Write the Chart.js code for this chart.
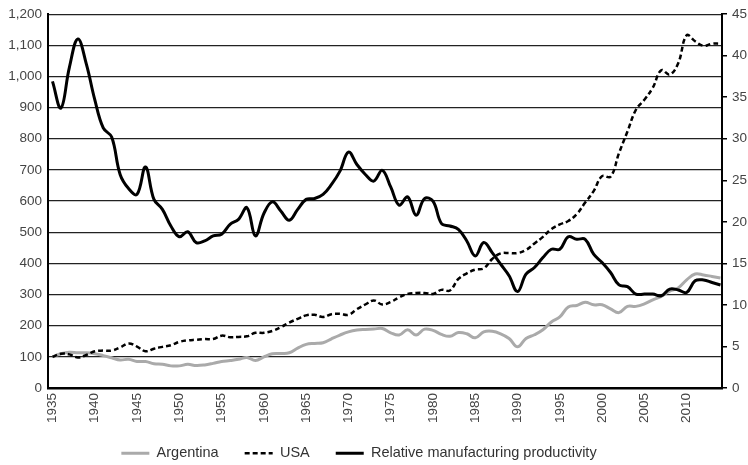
<!doctype html>
<html lang="en">
    <head>
        <meta charset="UTF-8" />
        <title>Argentina and USA manufacturing productivity</title>
        <script src="https://cdn.jsdelivr.net/npm/chart.js"></script>
        <style>
            html,
            body {
                margin: 0;
                padding: 0;
                background: #fff;
            }

            #wrap {
                width: 748px;
                height: 465px;
            }
        </style>
    </head>
    <body>
        <div id="wrap"><canvas id="chart"></canvas></div>

        <script>
            const years = [
                1935, 1936, 1937, 1938, 1939, 1940, 1941, 1942, 1943, 1944,
                1945, 1946, 1947, 1948, 1949, 1950, 1951, 1952, 1953, 1954,
                1955, 1956, 1957, 1958, 1959, 1960, 1961, 1962, 1963, 1964,
                1965, 1966, 1967, 1968, 1969, 1970, 1971, 1972, 1973, 1974,
                1975, 1976, 1977, 1978, 1979, 1980, 1981, 1982, 1983, 1984,
                1985, 1986, 1987, 1988, 1989, 1990, 1991, 1992, 1993, 1994,
                1995, 1996, 1997, 1998, 1999, 2000, 2001, 2002, 2003, 2004,
                2005, 2006, 2007, 2008, 2009, 2010, 2011, 2012, 2013, 2014,
            ];

            // index, 1935 = 100 (left axis)
            const argentina = [
                100, 110, 115, 113, 113, 110, 104, 97, 90, 92,
                85, 85, 78, 76, 71, 71, 76, 72, 74, 79,
                85, 88, 92, 98, 88, 100, 110, 111, 113, 128,
                140, 143, 145, 158, 170, 180, 186, 188, 189, 191,
                177, 170, 187, 170, 189, 185, 172, 166, 178, 174,
                161, 180, 182, 174, 159, 132, 159, 171, 187, 212,
                228, 260, 265, 275, 267, 267, 254, 242, 262, 262,
                270, 283, 294, 311, 321, 347, 366, 363, 358, 353,
            ];

            const usa = [
                100, 110, 108, 98, 106, 118, 120, 120, 130, 143,
                133, 118, 126, 132, 137, 148, 153, 155, 157, 157,
                168, 163, 164, 166, 177, 177, 183, 195, 210, 222,
                233, 235, 228, 237, 238, 235, 253, 268, 281, 268,
                276, 291, 302, 305, 305, 302, 315, 313, 350, 368,
                380, 384, 414, 432, 433, 433, 443, 464, 485, 510,
                525, 536, 558, 595, 632, 680, 678, 754, 823, 893,
                925, 964, 1020, 1006, 1042, 1132, 1113, 1098, 1105, 1105,
            ];

            // right axis
            const productivity = [
                36.9, 33.7, 38.6, 42.0, 39.0, 34.7, 31.3, 30.2, 25.7, 24.0,
                23.3, 26.6, 22.7, 21.5, 19.5, 18.2, 18.8, 17.5, 17.7, 18.3,
                18.5, 19.7, 20.3, 21.7, 18.3, 21.0, 22.4, 21.3, 20.2, 21.5,
                22.7, 22.8, 23.3, 24.5, 26.1, 28.4, 26.9, 25.7, 24.9, 26.2,
                24.2, 22.0, 23.0, 20.8, 22.8, 22.5, 19.8, 19.5, 19.1, 17.7,
                15.9, 17.5, 16.3, 14.9, 13.5, 11.6, 13.7, 14.5, 15.7, 16.7,
                16.7, 18.2, 17.9, 17.9, 16.1, 15.1, 13.9, 12.4, 12.2, 11.3,
                11.3, 11.3, 11.1, 11.9, 11.8, 11.5, 12.9, 13.0, 12.7, 12.4,
            ];

            const yearTicks = [
                1935, 1940, 1945, 1950, 1955, 1960, 1965, 1970, 1975, 1980,
                1985, 1990, 1995, 2000, 2005, 2010,
            ];
            const leftTicks = [
                0, 100, 200, 300, 400, 500, 600, 700, 800, 900, 1000, 1100,
                1200,
            ];
            const rightTicks = [0, 5, 10, 15, 20, 25, 30, 35, 40, 45];

            /*** * * ***/

            const fontFamily = "'Liberation Sans', Arial, sans-serif";
            const tickFont = { family: fontFamily, size: 13.5 };
            const tickColor = "#444";

            function points(values) {
                return years.map((year, i) => ({ x: year, y: values[i] }));
            }

            function setTicks(list) {
                return (axis) => {
                    axis.ticks = list.map((value) => ({ value }));
                };
            }

            // legend line keeps the dataset's dash pattern
            function legendLabels(chart) {
                const items =
                    Chart.defaults.plugins.legend.labels.generateLabels(chart);
                return items.map((item) => {
                    const ds = chart.data.datasets[item.datasetIndex];
                    return {
                        ...item,
                        lineWidth: ds.borderWidth,
                        lineDash: ds.borderDash || [],
                        strokeStyle: ds.borderColor,
                    };
                });
            }

            // the legend in the original sits a little left of centre
            const legendNudge = {
                id: "legendNudge",
                afterLayout(chart) {
                    const legend = chart.legend;
                    if (!legend) return;
                    legend.left -= 15;
                    legend.right -= 15;
                    legend.top -= 4;
                    legend.bottom -= 4;
                },
            };

            new Chart(document.getElementById("chart"), {
                type: "line",
                data: {
                    datasets: [
                        {
                            label: "Argentina",
                            data: points(argentina),
                            yAxisID: "y",
                            borderColor: "#aaaaaa",
                            backgroundColor: "#aaaaaa",
                            borderWidth: 3,
                            order: 2,
                        },
                        {
                            label: "USA",
                            data: points(usa),
                            yAxisID: "y",
                            borderColor: "#000",
                            backgroundColor: "#000",
                            borderWidth: 2.5,
                            borderDash: [5, 3],
                            order: 1,
                        },
                        {
                            label: "Relative manufacturing productivity",
                            data: points(productivity),
                            yAxisID: "y1",
                            borderColor: "#000",
                            backgroundColor: "#000",
                            borderWidth: 3,
                            order: 0,
                        },
                    ],
                },
                options: {
                    responsive: true,
                    maintainAspectRatio: false,
                    animation: false,
                    layout: { padding: { top: 9 } },
                    elements: {
                        point: { radius: 0, hoverRadius: 0 },
                        line: { tension: 0.4 },
                    },
                    plugins: {
                        tooltip: { enabled: false },
                        legend: {
                            position: "bottom",
                            maxHeight: 41,
                            labels: {
                                usePointStyle: true,
                                pointStyle: "line",
                                pointStyleWidth: 28,
                                padding: 26,
                                color: "#333",
                                font: { family: fontFamily, size: 14.5 },
                                generateLabels: legendLabels,
                                sort: (a, b) => a.datasetIndex - b.datasetIndex,
                            },
                        },
                    },
                    scales: {
                        x: {
                            type: "linear",
                            min: 1934.47,
                            max: 2014.18,
                            afterBuildTicks: setTicks(yearTicks),
                            afterFit: (axis) => {
                                axis.height = 36;
                            },
                            grid: { display: false, drawTicks: false },
                            border: { display: true, color: "#000", width: 2.5 },
                            ticks: {
                                minRotation: 90,
                                maxRotation: 90,
                                autoSkip: false,
                                padding: 5,
                                color: tickColor,
                                font: tickFont,
                                callback: (value) => String(value),
                            },
                        },
                        y: {
                            position: "left",
                            min: 0,
                            max: 1200,
                            afterBuildTicks: setTicks(leftTicks),
                            afterFit: (axis) => {
                                axis.width = 48;
                            },
                            grid: { color: "#222", lineWidth: 1.2, drawTicks: false },
                            border: { display: true, color: "#000", width: 2 },
                            ticks: {
                                padding: 6,
                                color: tickColor,
                                font: tickFont,
                                callback: (value) => value.toLocaleString("en-US"),
                            },
                        },
                        y1: {
                            position: "right",
                            min: 0,
                            max: 45,
                            afterBuildTicks: setTicks(rightTicks),
                            afterFit: (axis) => {
                                axis.width = 26;
                            },
                            grid: {
                                drawOnChartArea: false,
                                drawTicks: true,
                                tickLength: 5,
                                color: "#000",
                                lineWidth: 1.5,
                            },
                            border: { display: true, color: "#000", width: 2 },
                            ticks: {
                                padding: 5,
                                color: tickColor,
                                font: tickFont,
                            },
                        },
                    },
                },
                plugins: [legendNudge],
            });
        </script>
    </body>
</html>
